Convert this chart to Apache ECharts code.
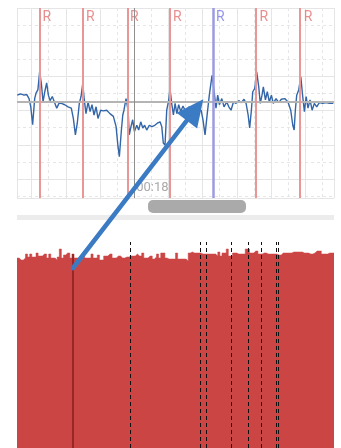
<!DOCTYPE html>
<html>
<head>
<meta charset="utf-8">
<script src="https://cdn.jsdelivr.net/npm/echarts@6/dist/echarts.min.js"></script>
<style>
  html, body { margin: 0; padding: 0; background: #fff; }
  #chart { width: 341px; height: 448px; }
</style>
</head>
<body>
<div id="chart"></div>
<script>
// ECG strip: time in seconds, amplitude in mV (baseline 0)
const ecgTime = [
  17.316, 17.336, 17.356, 17.371, 17.385, 17.395, 17.406, 17.418, 17.426, 17.437,
  17.447, 17.457, 17.467, 17.477, 17.488, 17.498, 17.508, 17.521, 17.531, 17.547,
  17.560, 17.574, 17.594, 17.613, 17.632, 17.644, 17.656, 17.667, 17.679, 17.689,
  17.699, 17.708, 17.718, 17.730, 17.742, 17.753, 17.765, 17.777, 17.788, 17.804,
  17.819, 17.839, 17.858, 17.878, 17.894, 17.905, 17.913, 17.925, 17.933, 17.940,
  17.952, 17.958, 17.964, 17.971, 17.981, 17.991, 18.001, 18.015, 18.026, 18.038,
  18.050, 18.061, 18.073, 18.088, 18.104, 18.120, 18.135, 18.151, 18.161, 18.170,
  18.180, 18.190, 18.202, 18.209, 18.219, 18.229, 18.239, 18.249, 18.260, 18.272,
  18.285, 18.303, 18.320, 18.338, 18.356, 18.373, 18.391, 18.402, 18.414, 18.427,
  18.439, 18.455, 18.468, 18.478, 18.488, 18.498, 18.512, 18.525, 18.541, 18.553,
  18.566, 18.580, 18.595, 18.611, 18.626, 18.642, 18.654, 18.666, 18.675, 18.685,
  18.693, 18.705, 18.716, 18.728, 18.737, 18.747, 18.755, 18.767, 18.778, 18.790,
  18.802, 18.813, 18.829, 18.845, 18.860, 18.880, 18.899, 18.915, 18.927, 18.935,
  18.942, 18.950, 18.962, 18.974, 18.985, 18.995, 19.005, 19.016, 19.028, 19.040,
  19.053, 19.067, 19.082, 19.102, 19.122, 19.141, 19.164
];
const ecgMv = [
  0.10, 0.12, 0.10, 0.11, 0.05, -0.07, -0.33, 0.05, 0.13, 0.18,
  0.44, 0.27, 0.00, 0.15, 0.28, 0.10, 0.02, 0.08, 0.09, -0.09,
  -0.02, -0.02, -0.04, -0.07, -0.09, -0.24, -0.48, -0.31, -0.02, 0.08,
  0.27, 0.03, -0.17, 0.00, -0.14, -0.04, -0.19, -0.07, -0.24, -0.12,
  -0.13, -0.12, -0.17, -0.21, -0.36, -0.65, -0.80, -0.41, -0.19, -0.12,
  0.05, 0.07, -0.12, -0.48, -0.36, -0.26, -0.43, -0.34, -0.41, -0.29,
  -0.38, -0.34, -0.41, -0.34, -0.36, -0.34, -0.31, -0.29, -0.36, -0.60,
  -0.63, -0.12, 0.03, 0.20, -0.02, -0.19, -0.02, -0.17, -0.04, -0.14,
  -0.06, -0.15, -0.07, -0.12, -0.07, -0.15, -0.12, -0.26, -0.48, -0.17,
  0.10, 0.39, 0.13, -0.09, 0.10, -0.04, 0.05, -0.07, 0.00, -0.07,
  -0.12, 0.00, -0.02, 0.02, -0.01, 0.04, -0.02, -0.19, -0.38, -0.12,
  0.15, 0.20, 0.44, 0.22, -0.02, 0.10, 0.22, 0.03, 0.15, 0.00,
  0.10, -0.02, 0.05, -0.01, 0.04, 0.05, 0.00, -0.12, -0.34, -0.41,
  -0.12, 0.10, 0.18, 0.37, 0.08, -0.14, 0.08, -0.09, 0.03, -0.12,
  -0.02, -0.07, -0.01, -0.02, -0.01, -0.02, -0.02
];
const rPeaks = [17.446, 17.701, 17.958, 18.209, 18.715, 18.973];
const selectedPeak = 18.461;
const cursorTime = 18;

// per-beat bars below the strip
const barValues = [
  190, 188, 188, 190, 194, 191, 194, 191, 191, 195,
  192, 192, 194, 194, 190, 194, 190, 190, 188, 191,
  199, 190, 193, 195, 195, 190, 194, 190, 190, 190,
  190, 194, 190, 190, 190, 194, 190, 190, 193, 188,
  188, 192, 192, 194, 194, 190, 190, 192, 192, 190,
  190, 191, 191, 192, 192, 192, 194, 192, 192, 195,
  190, 190, 192, 192, 189, 191, 194, 190, 195, 195,
  190, 189, 189, 189, 189, 195, 189, 189, 189, 189,
  187, 195, 196, 195, 195, 195, 195, 194, 194, 194,
  194, 194, 194, 194, 192, 196, 192, 195, 195, 199,
  192, 192, 195, 195, 194, 194, 194, 194, 199, 199,
  195, 195, 197, 197, 194, 194, 195, 195, 194, 194,
  194, 194, 194, 193, 193, 195, 195, 195, 195, 195,
  196, 196, 196, 196, 196, 195, 195, 195, 194, 194,
  195, 197, 197, 197, 194, 194, 194, 195, 195, 195
];
const selectedBar = 26;
const dashedBars = [53, 86, 89, 101, 109, 115, 122, 123];
const arrowFrom = [26, 180];      // bar index, bar value
const arrowTo = [18.404, 0.04];   // ECG time, mV

const T_MIN = 17.3146, T_MAX = 19.168;
const V_MIN = -1.4035, V_MAX = 1.3743;
const RED = '#cc4545';

const chart = echarts.init(document.getElementById('chart'), null, { renderer: 'canvas' });

const hidden = { axisLine: { show: false }, axisTick: { show: false }, axisLabel: { show: false } };
const gridSolid = { show: true, lineStyle: { color: '#e4e4e4', width: 1, type: 'solid' } };
const gridDash = { show: true, lineStyle: { color: '#e6e6e6', width: 1, type: [3, 3] } };

// bars as one stepped area (each value spans [i - 0.5, i + 0.5]), so no seams between them
const barSteps = barValues.map((v, i) => [i - 0.5, v]);
barSteps.push([barValues.length - 0.5, barValues[barValues.length - 1]]);

const option = {
  animation: false,
  textStyle: { fontFamily: 'Roboto' },
  grid: [
    { left: 17, right: 7, top: 8, height: 190 },
    { left: 17, right: 7, top: 242, bottom: 0 },
  ],
  xAxis: [
    {
      // signal time axis, also draws the major paper lines
      type: 'value', gridIndex: 0, min: T_MIN, max: T_MAX,
      minInterval: 0.2, maxInterval: 0.2, position: 'bottom',
      axisLine: { show: false }, axisTick: { show: false },
      splitLine: gridSolid,
      axisLabel: {
        show: true, inside: true, customValues: [cursorTime],
        formatter: (v) => '00:' + String(Math.round(v)).padStart(2, '0'),
        color: '#aaaaaa', fontSize: 13, align: 'left', margin: 4, padding: [0, 0, 0, 2],
      },
    },
    {
      // minor paper lines
      type: 'value', gridIndex: 0, min: T_MIN, max: T_MAX,
      minInterval: 0.1, maxInterval: 0.1, position: 'top',
      ...hidden, splitLine: gridDash,
    },
    {
      type: 'value', gridIndex: 1, min: -0.5, max: barValues.length - 0.5,
      ...hidden, splitLine: { show: false },
    },
  ],
  yAxis: [
    { type: 'value', gridIndex: 0, min: V_MIN, max: V_MAX, ...hidden, splitLine: { show: false } },
    { type: 'value', gridIndex: 0, inverse: true, min: 0, max: V_MAX - V_MIN, interval: 0.5, ...hidden, splitLine: gridSolid },
    { type: 'value', gridIndex: 0, inverse: true, min: 0, max: V_MAX - V_MIN, interval: 0.25, ...hidden, splitLine: gridDash },
    { type: 'value', gridIndex: 1, min: 0, max: 206, ...hidden, splitLine: { show: false } },
  ],
  series: [
    {
      name: 'R', type: 'scatter', xAxisIndex: 0, yAxisIndex: 0, z: 1,
      symbolSize: 0, silent: true, clip: false,
      data: [
        ...rPeaks.map((t) => ({ value: [t, V_MAX], label: { color: '#e27272' } })),
        { value: [selectedPeak, V_MAX], label: { color: '#7a7ae2' } },
      ],
      label: { show: true, formatter: 'R', position: [3, 2], fontSize: 14 },
      markLine: {
        silent: true, symbol: ['none', 'none'], label: { show: false },
        data: [
          { yAxis: 0, lineStyle: { color: '#b4b4b4', width: 2, type: 'solid' } },
          { xAxis: cursorTime, lineStyle: { color: '#8f8f8f', width: 1, type: 'solid' } },
          ...rPeaks.map((t) => ({ xAxis: t, lineStyle: { color: '#e89696', width: 2, type: 'solid' } })),
          { xAxis: selectedPeak, lineStyle: { color: '#9b9be2', width: 2.5, type: 'solid' } },
        ],
      },
    },
    {
      name: 'ECG', type: 'line', xAxisIndex: 0, yAxisIndex: 0, z: 3,
      data: ecgTime.map((t, i) => [t, ecgMv[i]]),
      showSymbol: false, silent: true,
      lineStyle: { color: '#3366a8', width: 1.4 },
    },
    {
      name: 'beats', type: 'line', xAxisIndex: 2, yAxisIndex: 3, z: 2,
      step: 'end', data: barSteps, showSymbol: false, silent: true,
      lineStyle: { color: RED, width: 0.5 },
      areaStyle: { color: RED, opacity: 1, origin: 'start' },
      markLine: {
        silent: true, symbol: ['none', 'none'], label: { show: false },
        lineStyle: { color: '#111111', width: 1, type: [4, 3] },
        data: dashedBars.map((i) => ({ xAxis: i })),
      },
    },
    {
      name: 'selected', type: 'bar', xAxisIndex: 2, yAxisIndex: 3, z: 3,
      barWidth: 2, silent: true,
      itemStyle: { color: '#9a2727' },
      data: [[selectedBar, barValues[selectedBar]]],
    },
  ],
  graphic: [
    { type: 'rect', shape: { x: 17, y: 215, width: 317, height: 5 }, style: { fill: '#ececec' }, silent: true },
    { type: 'rect', shape: { x: 148, y: 200, width: 98, height: 13, r: 5 }, style: { fill: '#aaaaaa' }, silent: true },
  ],
};

chart.setOption(option);

// annotation arrow from the selected bar up to the selected beat
const p0 = chart.convertToPixel({ xAxisIndex: 2, yAxisIndex: 3 }, arrowFrom);
const p1 = chart.convertToPixel({ xAxisIndex: 0, yAxisIndex: 0 }, arrowTo);
const dx = p1[0] - p0[0], dy = p1[1] - p0[1];
const len = Math.hypot(dx, dy);
const ux = dx / len, uy = dy / len;
const headLen = 27, headHalf = 13;
const bx = p1[0] - ux * headLen, by = p1[1] - uy * headLen;

chart.setOption({
  graphic: [
    option.graphic[0],
    option.graphic[1],
    {
      type: 'line', z: 100, silent: true,
      shape: { x1: p0[0], y1: p0[1], x2: bx + ux * 4, y2: by + uy * 4 },
      style: { stroke: '#3b7bc4', lineWidth: 4.5, lineCap: 'round' },
    },
    {
      type: 'polygon', z: 100, silent: true,
      shape: { points: [[p1[0], p1[1]], [bx - uy * headHalf, by + ux * headHalf], [bx + uy * headHalf, by - ux * headHalf]] },
      style: { fill: '#3b7bc4' },
    },
  ],
});
</script>
</body>
</html>
